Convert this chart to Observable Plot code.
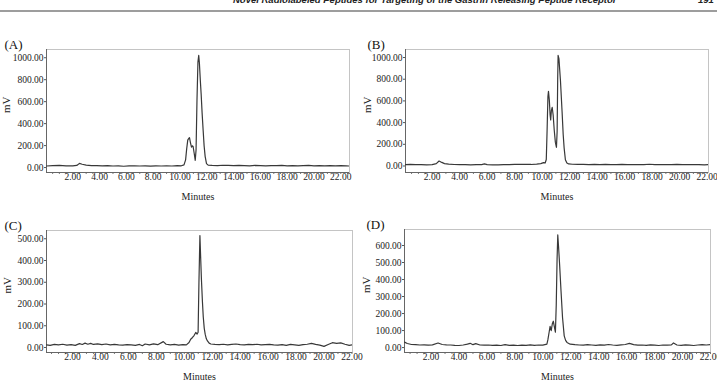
<!DOCTYPE html>
<html>
<head>
<meta charset="utf-8">
<script src="https://cdn.jsdelivr.net/npm/d3@7"></script>
<script src="https://cdn.jsdelivr.net/npm/@observablehq/plot@0.6"></script>
<style>
  html, body { margin: 0; padding: 0; background: #fff; }
  body { width: 717px; height: 386px; overflow: hidden; position: relative; font-family: "Liberation Serif", serif; }
  #hdr { position: absolute; left: 233px; top: -6px; font: italic bold 9.5px "Liberation Sans", Arial, sans-serif; color: #222; white-space: nowrap; line-height: 11px; }
  #pg { position: absolute; left: 698px; top: -6px; font: italic bold 9.5px "Liberation Sans", Arial, sans-serif; color: #222; line-height: 11px; }
  #rule { position: absolute; left: 0; top: 10px; width: 717px; height: 2px; background: #9d9d9d; }
  .pane { position: absolute; }
  .pane svg { overflow: visible; }
</style>
</head>
<body>
<div id="hdr">Novel Radiolabeled Peptides for Targeting of the Gastrin Releasing Peptide Receptor</div>
<div id="pg">191</div>
<div id="rule"></div>
<div id="pA" class="pane" style="left:0px;top:20px"></div>
<div id="pB" class="pane" style="left:358px;top:20px"></div>
<div id="pC" class="pane" style="left:0px;top:200px"></div>
<div id="pD" class="pane" style="left:358px;top:200px"></div>
<script>
// ---- data: [minutes, mV] ----
const traceA = [[0.04,14],[0.5,17],[1.0,20],[1.5,16],[2.0,15],[2.3,19],[2.5,38],[2.7,30],[3.0,22],[3.4,18],[3.8,17],[4.2,15],[4.6,17],[5.0,14],[5.4,15],[5.8,12],[6.2,15],[6.6,16],[7.0,14],[7.4,15],[7.8,13],[8.2,15],[8.6,14],[9.0,16],[9.4,14],[9.8,18],[10.1,16],[10.3,24],[10.42,70],[10.5,170],[10.58,250],[10.65,265],[10.71,272],[10.78,228],[10.86,186],[10.93,198],[10.98,192],[11.06,130],[11.14,66],[11.2,160],[11.27,620],[11.34,960],[11.4,1021],[11.45,950],[11.52,790],[11.58,670],[11.65,500],[11.73,337],[11.8,200],[11.88,100],[11.98,36],[12.1,22],[12.4,19],[12.8,17],[13.2,21],[13.6,19],[14.0,17],[14.4,20],[14.8,18],[15.2,16],[15.6,19],[16.0,17],[16.4,15],[16.8,18],[17.2,17],[17.6,19],[18.0,16],[18.4,18],[18.8,15],[19.2,17],[19.6,19],[20.0,16],[20.4,18],[20.8,15],[21.2,17],[21.6,16],[22.0,18],[22.4,16],[22.65,14]];
const traceB = [[0.06,12],[0.4,14],[0.8,12],[1.2,13],[1.6,11],[2.0,13],[2.3,22],[2.5,46],[2.7,33],[2.9,22],[3.2,17],[3.6,14],[4.0,12],[4.4,13],[4.8,11],[5.2,12],[5.6,13],[5.8,19],[6.0,12],[6.4,10],[6.8,11],[7.2,13],[7.6,12],[8.0,14],[8.4,16],[8.8,15],[9.2,14],[9.6,17],[9.9,22],[10.1,31],[10.22,28],[10.3,60],[10.36,330],[10.42,640],[10.46,688],[10.52,610],[10.58,470],[10.62,425],[10.67,510],[10.73,540],[10.8,470],[10.88,330],[10.96,220],[11.04,172],[11.09,320],[11.13,800],[11.16,1020],[11.22,990],[11.33,790],[11.45,500],[11.53,290],[11.6,165],[11.69,58],[11.8,28],[11.93,19],[12.2,16],[12.6,14],[13.0,15],[13.4,13],[13.8,14],[14.2,12],[14.6,14],[15.0,13],[15.4,12],[15.8,14],[16.2,13],[16.6,12],[17.0,13],[17.4,12],[17.8,16],[18.2,13],[18.6,12],[19.0,13],[19.4,12],[19.8,14],[20.2,13],[20.6,12],[21.0,13],[21.4,12],[21.8,11],[22.1,12]];
const traceC = [[0.14,12],[0.4,10],[0.7,14],[1.0,12],[1.3,15],[1.6,11],[1.9,13],[2.2,10],[2.5,18],[2.7,14],[2.9,20],[3.1,15],[3.3,19],[3.5,14],[3.8,17],[4.1,13],[4.4,16],[4.7,12],[5.0,14],[5.3,12],[5.6,11],[5.9,13],[6.2,12],[6.5,10],[6.8,14],[7.0,8],[7.2,16],[7.5,12],[7.8,17],[8.1,13],[8.5,27],[8.7,15],[9.0,12],[9.3,14],[9.6,11],[9.9,13],[10.15,12],[10.34,23],[10.46,38],[10.59,46],[10.7,55],[10.82,69],[10.92,62],[10.99,70],[11.05,300],[11.12,515],[11.17,420],[11.23,310],[11.3,210],[11.36,140],[11.43,88],[11.5,60],[11.58,40],[11.66,30],[11.78,20],[11.9,16],[12.2,14],[12.5,13],[12.8,15],[13.1,12],[13.4,14],[13.7,16],[14.0,13],[14.3,12],[14.6,14],[14.9,13],[15.2,15],[15.5,12],[15.8,13],[16.1,14],[16.4,12],[16.7,11],[17.0,13],[17.3,10],[17.6,14],[17.9,12],[18.2,10],[18.5,13],[18.8,15],[19.1,19],[19.4,14],[19.7,11],[20.0,5],[20.3,14],[20.6,22],[20.9,19],[21.2,21],[21.5,15],[21.8,10],[22.04,13]];
const traceD = [[0.1,32],[0.3,24],[0.6,18],[0.9,17],[1.2,15],[1.5,16],[1.8,14],[2.1,16],[2.5,27],[2.8,18],[3.1,16],[3.4,15],[3.7,13],[4.0,12],[4.3,15],[4.6,20],[4.8,25],[5.0,17],[5.2,23],[5.5,15],[5.8,14],[6.1,15],[6.4,13],[6.7,14],[7.0,12],[7.3,17],[7.6,13],[7.9,14],[8.2,12],[8.5,14],[8.8,13],[9.1,16],[9.4,13],[9.7,15],[10.0,14],[10.29,20],[10.36,45],[10.45,90],[10.52,125],[10.6,100],[10.68,140],[10.75,155],[10.83,120],[10.9,90],[10.96,250],[11.02,520],[11.07,662],[11.12,600],[11.2,490],[11.3,335],[11.41,177],[11.53,69],[11.63,42],[11.73,30],[11.96,20],[12.3,17],[12.6,15],[12.9,14],[13.2,17],[13.5,15],[13.8,13],[14.1,16],[14.4,14],[14.7,18],[15.0,15],[15.3,13],[15.6,16],[15.9,18],[16.2,25],[16.5,17],[16.8,14],[17.1,15],[17.4,13],[17.7,16],[18.0,14],[18.3,12],[18.6,15],[18.9,14],[19.2,16],[19.35,27],[19.6,15],[19.9,13],[20.2,16],[20.5,14],[20.8,12],[21.1,15],[21.4,17],[21.7,15],[22.0,18]];

const panelLabels = ["(A)", "(B)", "(C)", "(D)"];
const xTickValues = [2, 4, 6, 8, 10, 12, 14, 16, 18, 20, 22];
const yTicksA = [0, 200, 400, 600, 800, 1000];
const yTicksB = [0, 200, 400, 600, 800, 1000];
const yTicksC = [0, 100, 200, 300, 400, 500];
const yTicksD = [0, 100, 200, 300, 400, 500, 600];
const xTitle = "Minutes";
const yTitle = "mV";

function panel(el, trace, label, yTicks, o) {
  const data = trace.map(([m, v]) => ({m, v}));
  const minor = d3.range(Math.ceil(o.xDomain[0] / 0.5) * 0.5, o.xDomain[1] + 1e-9, 0.5);
  const chart = Plot.plot({
    width: o.width, height: o.height,
    marginLeft: o.mL, marginRight: o.mR, marginTop: o.mT, marginBottom: o.mB,
    style: {fontFamily: '"Liberation Serif", serif', fontSize: "9.5px", color: "#222", background: "transparent", overflow: "visible"},
    x: {domain: o.xDomain},
    y: {domain: o.yDomain},
    marks: [
      Plot.frame({stroke: "#c4c4c4"}),
      Plot.axisX({ticks: minor, tickSize: 2, fill: "none", stroke: "#777", label: null}),
      Plot.axisX({ticks: xTickValues, tickSize: 0, tickPadding: 1, tickFormat: d => d.toFixed(2), label: null}),
      Plot.axisY({ticks: yTicks, tickSize: 2, tickPadding: 1, tickFormat: d => d.toFixed(2), stroke: "#555", label: null}),
      Plot.ruleY([o.yDomain[0]], {stroke: "#666"}),
      Plot.ruleX([o.xDomain[0]], {stroke: "#666"}),
      Plot.line(data, {x: "m", y: "v", stroke: "#383838", strokeWidth: 1.2, clip: true}),
      Plot.text([xTitle], {frameAnchor: "bottom", dy: 27, fontSize: 10, fill: "#222"}),
      Plot.text([yTitle], {frameAnchor: "left", dx: o.mvDx, dy: 2, rotate: -90, fontSize: 11, fill: "#222"}),
      Plot.text([label], {frameAnchor: "top-left", dx: o.labDx, dy: -10, textAnchor: "start", fontSize: 13, fill: "#111"})
    ]
  });
  document.getElementById(el).appendChild(chart);
}

panel("pA", traceA, panelLabels[0], yTicksA, {width: 358, height: 190, mL: 46, mR: 9, mT: 29, mB: 38, xDomain: [0.04, 22.65], yDomain: [-45, 1075], mvDx: -40, labDx: -42});
panel("pB", traceB, panelLabels[1], yTicksB, {width: 359, height: 190, mL: 47, mR: 9, mT: 29, mB: 38, xDomain: [0.06, 22.1], yDomain: [-60, 1074], mvDx: -38, labDx: -38});
panel("pC", traceC, panelLabels[2], yTicksC, {width: 358, height: 186, mL: 46, mR: 6, mT: 30, mB: 34, xDomain: [0.14, 22.04], yDomain: [-23, 538], mvDx: -39, labDx: -42});
panel("pD", traceD, panelLabels[3], yTicksD, {width: 359, height: 186, mL: 46, mR: 7, mT: 29, mB: 34, xDomain: [0.1, 22.0], yDomain: [-29, 694], mvDx: -38, labDx: -38});
</script>
</body>
</html>
